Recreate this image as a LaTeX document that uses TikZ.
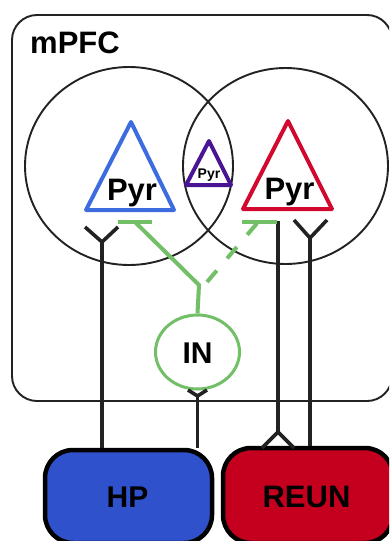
\documentclass[tikz,border=0pt]{standalone}
\usepackage{fontspec}
\setmainfont{Liberation Sans}
\usetikzlibrary{shapes.geometric}
\definecolor{triblue}{HTML}{3D6BE0}
\definecolor{tripurple}{HTML}{4A1594}
\definecolor{trired}{HTML}{D2082E}
\definecolor{ingreen}{HTML}{72BF68}
\definecolor{hpblue}{HTML}{2F52CC}
\definecolor{reunred}{HTML}{C4001E}
\definecolor{ink}{HTML}{222222}
\begin{document}
\begin{tikzpicture}[x=1pt,y=-1pt,
  lbl/.style={inner sep=0pt, anchor=base},
  big/.style={font=\bfseries\fontsize{31}{31}\selectfont},
  region/.style={draw=ink, line width=1.9pt, ellipse, inner sep=0pt},
  tri/.style={line width=4pt, line join=round},
  axon/.style={draw=ink, line width=3.6pt},
  inhib/.style={draw=ingreen, line width=4pt},
  area/.style={draw=black, line width=4.5pt, rounded corners=28pt, inner sep=0pt}]
\useasboundingbox (0,0) rectangle (389,541);
\clip (0,0) rectangle (389,541);
\fill[white] (0,0) rectangle (389,541);

% mPFC box
\node[draw=ink, line width=1.9pt, rounded corners=25pt, minimum width=380pt, minimum height=386pt, inner sep=0pt] (mpfc) at (202,208) {};
\node[lbl, anchor=base west, big] (mpfclbl) at (30,53) {mPFC};

% regions
\node[region, minimum width=208pt, minimum height=198pt] (cL) at (129,166) {};
\node[region, minimum width=205pt, minimum height=196pt] (cR) at (285.5,166) {};

% triangles
\draw[tri, draw=triblue] (131,122) -- (174,210) -- (86,210) -- cycle;
\draw[tri, draw=trired] (288,121) -- (332,209) -- (243,209) -- cycle;
\draw[tri, draw=tripurple] (209,141) -- (231,185) -- (186,185) -- cycle;
\node[lbl, big] (pyrB) at (132,200) {Pyr};
\node[lbl, big] (pyrR) at (289.5,199) {Pyr};
\node[lbl, font=\bfseries\fontsize{14}{14}\selectfont] (pyrP) at (209,178) {Pyr};

% IN
\node[draw=ingreen, line width=3pt, ellipse, minimum width=84pt, minimum height=74pt, inner sep=0pt] (in) at (197.5,352) {};
\node[lbl, font=\bfseries\fontsize{30}{30}\selectfont] (inlbl) at (197.5,363) {IN};

% HP and REUN
\node[area, fill=hpblue, minimum width=167pt, minimum height=93pt] (hp) at (128.5,496.5) {};
\node[lbl, font=\bfseries\fontsize{30}{30}\selectfont] (hplbl) at (127.5,507) {HP};
\node[area, fill=reunred, minimum width=170pt, minimum height=95pt] (reun) at (308,495.5) {};
\node[lbl, big] (reunlbl) at (306.5,507) {REUN};

% coordinates
\coordinate (yL) at (102,242);
\coordinate (yR) at (310,238);
\coordinate (forkR) at (278,432);
\coordinate (topR) at (278,221);
\coordinate (yIN) at (197.5,396);
\coordinate (jn) at (199,285);
\coordinate (barL1) at (118,222);
\coordinate (barL2) at (152,222);
\coordinate (barR1) at (242,222);
\coordinate (barR2) at (277,222);

% HP -> mPFC (left)
\draw[axon] (yL |- hp.north) -- (yL);
\draw[axon, line join=miter] (85,227) -- (yL) -- (118,227);
% HP -> IN
\draw[axon] (yIN |- hp.north) -- (yIN);
\draw[axon, line join=miter] (188,390) -- (yIN) -- (207,390);
% REUN -> mPFC (right)
\draw[axon] (yR |- reun.north) -- (yR);
\draw[axon, line join=miter] (294,220) -- (yR) -- (327,220);
% mPFC -> REUN
\draw[axon] (topR) -- (forkR);
\draw[axon, line join=miter] (262,448) -- (forkR) -- (294,448);

% inhibitory connections
\draw[inhib] (barL1) -- (barL2);
\draw[inhib] (barR1) -- (barR2);
\draw[inhib] (in.north) -- (jn) -- (135,222);
\draw[inhib, dash pattern=on 15pt off 16pt] (207,282) -- (259,221);
\end{tikzpicture}
\end{document}
